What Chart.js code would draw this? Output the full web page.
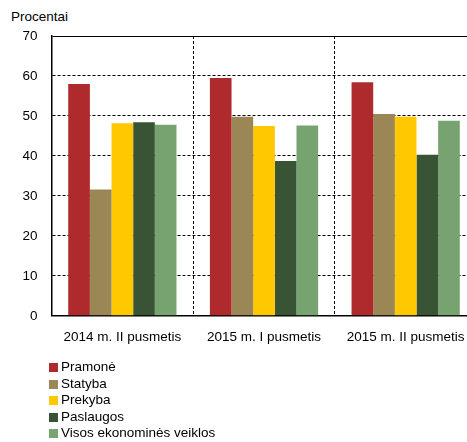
<!DOCTYPE html>
<html>
<head>
<meta charset="utf-8">
<script src="https://cdn.jsdelivr.net/npm/chart.js@4"></script>
<style>
  body { margin: 0; background: #fff; overflow: hidden; width: 467px; height: 442px; position: relative; font-family: "Liberation Sans", Arial, sans-serif; }
  #unit { position: absolute; left: 11px; top: 9px; font-size: 13.5px; line-height: 16px; color: #000; }
  #chartBox { position: absolute; left: 0; top: 0; }
  #legend { position: absolute; left: 49px; top: 359px; font-size: 13.5px; color: #000; }
  #legend div { height: 16.6px; line-height: 16.6px; white-space: nowrap; }
  #legend span { display: inline-block; width: 9px; height: 9px; margin-right: 3px; vertical-align: -1px; }
</style>
</head>
<body>
<div id="unit">Procentai</div>
<div id="chartBox"><canvas id="barChart" width="480" height="365"></canvas></div>
<div id="legend"></div>
<script>
const periods = ['2014 m. II pusmetis', '2015 m. I pusmetis', '2015 m. II pusmetis'];
const sectors = ['Pramonė', 'Statyba', 'Prekyba', 'Paslaugos', 'Visos ekonominės veiklos'];
const pramone = [58.0, 59.5, 58.4];
const statyba = [31.6, 49.8, 50.5];
const prekyba = [48.2, 47.5, 49.8];
const paslaugos = [48.4, 38.7, 40.3];
const visos = [47.8, 47.6, 48.8];
const colors = ['#ae2a2c', '#9b8755', '#ffc800', '#385434', '#76a36f'];

const seriesValues = [pramone, statyba, prekyba, paslaugos, visos];

const ctxBar = document.getElementById('barChart').getContext('2d');
const barChart = new Chart(ctxBar, {
    type: 'bar',
    data: {
        labels: periods,
        datasets: sectors.map((name, i) => ({
            label: name,
            data: seriesValues[i],
            backgroundColor: colors[i],
            borderWidth: 0,
            categoryPercentage: 0.764,
            barPercentage: 1
        }))
    },
    options: {
        responsive: false,
        animation: false,
        layout: { padding: { left: 8.5, top: 36, right: 3.5, bottom: 7 } },
        plugins: {
            legend: { display: false },
            tooltip: { enabled: false }
        },
        scales: {
            x: {
                grid: { color: '#000', lineWidth: 1, drawTicks: false },
                border: { color: '#000', width: 1.5, dash: [3, 2] },
                ticks: { color: '#000', padding: 13, font: { family: 'Liberation Sans', size: 13.5 } }
            },
            y: {
                min: 0,
                max: 70,
                ticks: { stepSize: 10, color: '#000', padding: 14, font: { family: 'Liberation Sans', size: 13.5 } },
                grid: { color: '#000', lineWidth: 1, drawTicks: false },
                border: {
                    color: '#000',
                    width: 1.5,
                    dash: (c) => (c.tick && c.tick.value === 70) ? [] : [3, 2]
                }
            }
        }
    }
});

// vertical legend list
const legendEl = document.getElementById('legend');
sectors.forEach((name, i) => {
    const row = document.createElement('div');
    const box = document.createElement('span');
    box.style.background = colors[i];
    row.appendChild(box);
    row.appendChild(document.createTextNode(name));
    legendEl.appendChild(row);
});
</script>
</body>
</html>
